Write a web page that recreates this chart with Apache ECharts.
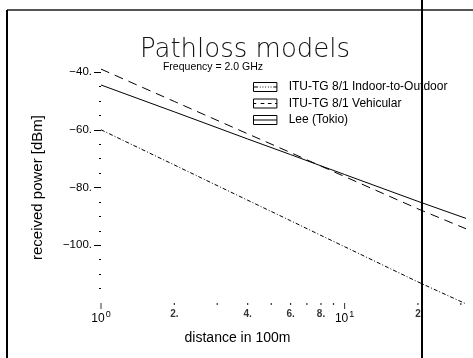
<!DOCTYPE html>
<html>
<head>
<meta charset="utf-8">
<script src="https://cdn.jsdelivr.net/npm/echarts@6/dist/echarts.min.js"></script>
<style>
  html, body { margin: 0; padding: 0; background: #fff; }
  #chart { width: 473px; height: 358px; }
</style>
</head>
<body>
<div id="chart"></div>
<script>
// distance in 100m (log axis) and received power in dBm
const distance = [1, 2, 4, 6, 8, 10, 20, 31.5];
const indoorOutdoor = [-60, -72.2, -84.4, -91.5, -96.6, -100.5, -112.7, -120.3];
const vehicular = [-39, -50.2, -61.4, -67.9, -72.6, -76.2, -87.4, -94.3];
const lee = [-44.5, -53.8, -63.2, -68.6, -72.5, -75.5, -84.8, -90.7];

const seriesNames = ['ITU-TG 8/1 Indoor-to-Outdoor', 'ITU-TG 8/1 Vehicular', 'Lee (Tokio)'];

// tick marks on the distance axis
const xMajorTicks = [1, 10];
const xMinorTicks = [2, 3, 4, 5, 6, 7, 8, 9, 20, 30];
const xMinorLabels = ['2.', '', '4.', '', '6.', '', '8.', '', '2', ''];
const yMajorTicks = [-100, -80, -60, -40];
const yMin = -120;
const yMax = -40;

const black = '#000';
const font = 'Liberation Sans';

// legend boxes: outline plus the line pattern through the middle
const boxDotted = 'path://M0,0H26V10H0Z M0,5H5 M7,5H8 M10,5H11 M13,5H14 M16,5H17 M19,5H20 M22,5H26';
const boxDashed = 'path://M0,0H26V10H0Z M0,5H3 M8,5H12 M16,5H20 M24,5H26';
const boxSolid = 'path://M0,0H26V10H0Z M0,5H26';

const myChart = echarts.init(document.getElementById('chart'));

const lineStyles = [
    { color: black, width: 1, type: [4, 2, 1, 2] },
    { color: black, width: 1, type: [9, 6] },
    { color: black, width: 1, type: 'solid' }
];
const lineData = [indoorOutdoor, vehicular, lee];

const option = {
    animation: false,
    title: [
        {
            text: 'Pathloss models',
            left: 245,
            top: 37,
            textAlign: 'center',
            padding: 0,
            textStyle: { fontFamily: 'DejaVu Sans', fontSize: 26, fontWeight: 200, color: '#111' }
        },
        {
            text: 'Frequency = 2.0 GHz',
            left: 213,
            top: 62,
            textAlign: 'center',
            padding: 0,
            textStyle: { fontFamily: font, fontSize: 10.5, fontWeight: 'normal', color: black }
        }
    ],
    legend: {
        orient: 'vertical',
        left: 253,
        top: 81,
        padding: 0,
        itemWidth: 25,
        itemHeight: 9,
        itemGap: 4.5,
        selectedMode: false,
        itemStyle: { color: 'transparent', borderColor: black, borderWidth: 1 },
        textStyle: { fontFamily: font, fontSize: 12, color: black, padding: [0, 0, 0, 6] },
        data: [
            { name: seriesNames[0], icon: boxDotted },
            { name: seriesNames[1], icon: boxDashed },
            { name: seriesNames[2], icon: boxSolid }
        ]
    },
    grid: { left: 101, top: 72, width: 365, height: 231 },
    xAxis: {
        type: 'log',
        logBase: 10,
        min: 1,
        max: 31.5,
        name: 'distance in 100m',
        nameLocation: 'middle',
        nameGap: 28,
        nameTextStyle: { fontFamily: font, fontSize: 14, color: black, padding: [0, 92, 0, 0] },
        axisLine: { show: false },
        axisTick: { show: false },
        splitLine: { show: false },
        axisLabel: {
            margin: 7,
            color: black,
            formatter: function (v) {
                const e = Math.log10(v);
                const r = Math.round(e);
                if (Math.abs(e - r) > 1e-6) return '';
                return '{b|10}{s|' + r + '}';
            },
            rich: {
                b: { fontFamily: font, fontSize: 12, color: black, verticalAlign: 'bottom' },
                s: { fontFamily: font, fontSize: 9, color: black, verticalAlign: 'bottom', padding: [0, 0, 6, 1] }
            }
        }
    },
    yAxis: {
        type: 'value',
        min: yMin,
        max: yMax,
        interval: 20,
        name: 'received power [dBm]',
        nameLocation: 'middle',
        nameGap: 56,
        nameTextStyle: { fontFamily: font, fontSize: 15, color: black },
        axisLine: { show: false },
        splitLine: { show: false },
        axisTick: { show: true, length: 7, customValues: yMajorTicks, lineStyle: { color: black } },
        minorTick: { show: true, splitNumber: 4, length: 2, lineStyle: { color: black } },
        axisLabel: {
            margin: 9,
            fontFamily: font,
            fontSize: 11.5,
            color: black,
            customValues: yMajorTicks,
            formatter: function (v) { return v === yMin ? '' : String(v).replace('-', '\u2212') + '.'; }
        }
    },
    series: [
        ...lineData.map(function (vals, i) {
            return {
                name: seriesNames[i],
                type: 'line',
                data: distance.map(function (d, j) { return [d, vals[j]]; }),
                showSymbol: false,
                symbol: 'none',
                clip: false,
                lineStyle: lineStyles[i],
                itemStyle: { color: black }
            };
        }),
        {
            name: 'major ticks',
            type: 'scatter',
            silent: true,
            clip: false,
            symbol: 'rect',
            symbolSize: [1, 6],
            symbolOffset: [0, 3],
            itemStyle: { color: black },
            data: xMajorTicks.map(function (v) { return [v, yMin]; })
        },
        {
            name: 'minor ticks',
            type: 'scatter',
            silent: true,
            clip: false,
            symbol: 'rect',
            symbolSize: [1.2, 2],
            symbolOffset: [0, 1],
            itemStyle: { color: black },
            label: {
                show: true,
                position: 'bottom',
                distance: 4,
                fontFamily: font,
                fontSize: 10,
                fontWeight: 'bold',
                color: black,
                formatter: function (p) { return xMinorLabels[p.dataIndex]; }
            },
            data: xMinorTicks.map(function (v) { return [v, yMin]; })
        }
    ],
    graphic: [
        { type: 'line', z: 100, shape: { x1: 7, y1: 10, x2: 473, y2: 10 }, style: { stroke: '#555', lineWidth: 2 } },
        { type: 'line', z: 100, shape: { x1: 7, y1: 10, x2: 7, y2: 358 }, style: { stroke: black, lineWidth: 2 } },
        { type: 'rect', z: 100, shape: { x: 421, y: 0, width: 2, height: 358 }, style: { fill: black } }
    ]
};

window.onresize = () => {
    myChart.resize();
};
myChart.setOption(option);
</script>
</body>
</html>
